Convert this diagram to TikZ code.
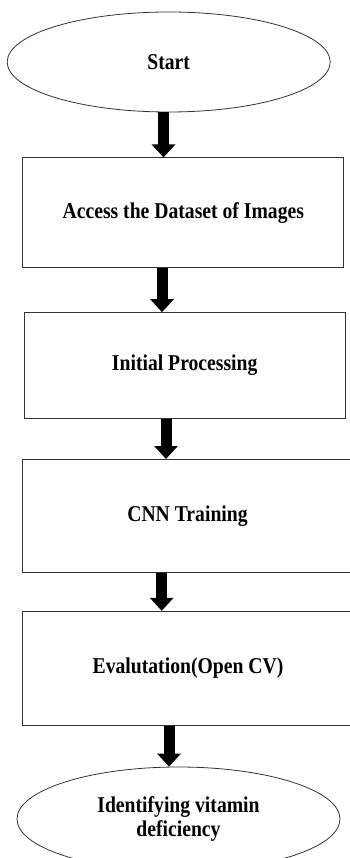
\documentclass[tikz,border=0pt]{standalone}
\usepackage{fontspec}
\setmainfont[FakeStretch=0.87]{Liberation Serif}
\usepackage{tikz}
\usetikzlibrary{positioning}
\usetikzlibrary{shapes.geometric}
\usetikzlibrary{arrows.meta}

\begin{document}
\begin{tikzpicture}[node distance=40pt,
  every node/.style={font=\bfseries\fontsize{22.6}{23.5}\selectfont, align=center, inner sep=0pt},
  term/.style={ellipse, draw=black!80, line width=0.8pt, minimum width=323pt, minimum height=100pt},
  proc/.style={rectangle, draw=black!80, line width=0.8pt, minimum width=321pt},
  flow/.style={line width=11pt, -{Triangle[width=23pt,length=13pt]}}]
\useasboundingbox (0,0) rectangle (349pt,-858pt);

\node[term]                        (start)  at (168.7pt,-62pt)                 {Start};
\node[proc,minimum height=110pt]   (access) [below=45pt of start, xshift=14.6pt] {Access the Dataset of Images};
\node[proc,minimum height=106pt]   (prep)   [below=44pt of access, xshift=1.4pt] {Initial Processing};
\node[proc,minimum height=113pt,minimum width=331pt] (cnn) [below=40pt of prep, xshift=2.8pt] {CNN Training};
\node[proc,minimum height=114pt,minimum width=331pt] (eval) [below=38pt of cnn, xshift=0.5pt] {Evalutation(Open CV)};
\node[term,minimum height=104pt]   (ident)  [below=41pt of eval, xshift=-9.5pt] {Identifying vitamin\\deficiency};

\draw[flow] ([xshift=-5.2pt]start.south)  -- ([xshift=-5.2pt]start.south |- access.north);
\draw[flow] ([xshift=-21.3pt]access.south) -- ([xshift=-21.3pt]access.south |- prep.north);
\draw[flow] ([xshift=-18.7pt]prep.south)  -- ([xshift=-18.7pt]prep.south |- cnn.north);
\draw[flow] ([xshift=-25.8pt]cnn.south)   -- ([xshift=-25.8pt]cnn.south |- eval.north);
\draw[flow] ([xshift=-19pt]eval.south)    -- ([xshift=-19pt]eval.south |- ident.north);

\end{tikzpicture}
\end{document}
